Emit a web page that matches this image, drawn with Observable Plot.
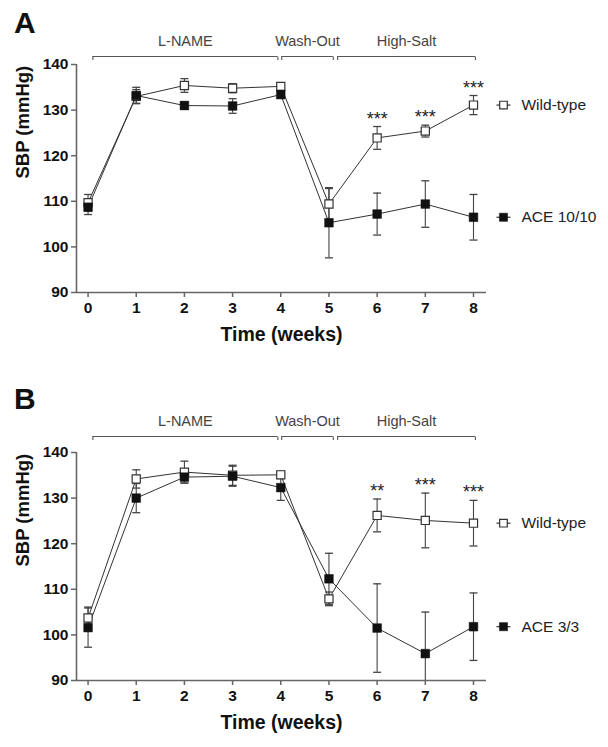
<!DOCTYPE html>
<html><head><meta charset="utf-8">
<script src="https://cdn.jsdelivr.net/npm/d3@7"></script>
<script src="https://cdn.jsdelivr.net/npm/@observablehq/plot@0.6"></script>
<style>
body{margin:0;background:#fff;overflow:hidden;font-family:"Liberation Sans",Arial,sans-serif}
#wrap{position:relative;width:608px;height:747px}
.panel{position:absolute;left:0}
.letter{position:absolute;left:14px;font-weight:bold;font-size:30px;line-height:1;color:#111}
</style></head>
<body><div id="wrap"></div>
<script>
// ---- data ----
const weeks = [0, 1, 2, 3, 4, 5, 6, 7, 8];
const xTicks = [0, 1, 2, 3, 4, 5, 6, 7, 8];
const yTicks = [90, 100, 110, 120, 130, 140];
const phaseLabels = ["L-NAME", "Wash-Out", "High-Salt"];
const phaseFrom = [0.1, 4.02, 5.18];
const phaseTo = [3.94, 5.09, 8.04];

const wtA = [109.7, 133.0, 135.4, 134.8, 135.2, 109.4, 123.9, 125.4, 131.1];
const wtAerr = [1.8, 1.5, 1.5, 1.0, 0.8, 3.4, 2.5, 1.3, 2.1];
const aceA = [108.7, 133.2, 131.0, 130.9, 133.4, 105.3, 107.2, 109.4, 106.5];
const aceAerr = [1.6, 1.8, 0.8, 1.6, 0.8, 7.7, 4.6, 5.1, 5.0];
const sigA = ["", "", "", "", "", "", "***", "***", "***"];

const wtB = [103.7, 134.2, 135.7, 135.0, 135.1, 107.9, 126.2, 125.1, 124.5];
const wtBerr = [2.4, 2.0, 2.4, 2.2, 0.8, 1.5, 3.6, 6.0, 5.0];
const aceB = [101.6, 130.0, 134.6, 134.8, 132.3, 112.3, 101.5, 95.9, 101.8];
const aceBerr = [4.3, 3.2, 1.3, 2.2, 2.8, 5.6, 9.7, 9.1, 7.4];
const sigB = ["", "", "", "", "", "", "**", "***", "***"];

const wtName = "Wild-type";
const aceNameA = "ACE 10/10";
const aceNameB = "ACE 3/3";

// ---- helpers ----
const hline = {draw(ctx, size) { const w = Math.sqrt(size) / 2; ctx.moveTo(-w, 0); ctx.lineTo(w, 0); }};
const vtick = {draw(ctx, size) { const h = Math.sqrt(size) / 2; ctx.moveTo(0, 0); ctx.lineTo(0, h); }};
const xDomain = [-0.24, 8.27];
const yDomain = [90, 140];
const FONT = "Liberation Sans, Arial, sans-serif";

function rowsOf(means, errs, name) {
  return weeks.map((w, i) => ({week: w, mean: means[i], err: errs[i], name}));
}

function panel({wt, wtErr, ace, aceErr, sig, aceName, height, marginBottom, bracketDy, top, letter, letterTop}) {
  const W = rowsOf(wt, wtErr, wtName);
  const A = rowsOf(ace, aceErr, aceName);
  const caps = [...W, ...A].flatMap(d => [{...d, y: d.mean - d.err}, {...d, y: d.mean + d.err}]);
  const stars = W.map((d, i) => ({...d, s: sig[i]})).filter(d => d.s);
  const phases = phaseLabels.map((l, i) => ({label: l, from: phaseFrom[i], to: phaseTo[i]}));
  const ends = phases.flatMap(p => [p.from, p.to]);
  const lastW = W[W.length - 1], lastA = A[A.length - 1];
  const axisCol = "#666";
  const chart = Plot.plot({
    width: 608, height,
    marginLeft: 76, marginRight: 122, marginTop: 64, marginBottom,
    x: {domain: xDomain},
    y: {domain: yDomain},
    style: {fontFamily: FONT, background: "white", overflow: "visible"},
    marks: [
      Plot.axisY({ticks: yTicks, tickSize: 5, tickPadding: 3, fontSize: 15.5, fontWeight: "bold", color: "#111", stroke: axisCol, strokeWidth: 1.5, label: null}),
      Plot.axisX({ticks: xTicks, tickSize: 5, tickPadding: 4, fontSize: 15.5, fontWeight: "bold", color: "#111", stroke: axisCol, strokeWidth: 1.5, label: null}),
      Plot.ruleX([xDomain[0]], {y1: yDomain[0], y2: yDomain[1], stroke: axisCol, strokeWidth: 1.6}),
      Plot.ruleY([yDomain[0]], {x1: xDomain[0], x2: xDomain[1], stroke: axisCol, strokeWidth: 1.6}),
      Plot.text(["SBP (mmHg)"], {text: d => d, frameAnchor: "left", rotate: -90, dx: -53, fontSize: 18.5, fontWeight: "bold", fill: "#111"}),
      Plot.text(["Time (weeks)"], {text: d => d, frameAnchor: "bottom", lineAnchor: "top", dy: 35, fontSize: 19.5, fontWeight: "bold", fill: "#111"}),
      // phase brackets
      Plot.ruleY(phases, {x1: "from", x2: "to", y: () => yDomain[1], dy: bracketDy, stroke: "#555", strokeWidth: 1.1}),
      Plot.dot(ends, {x: d => d, y: () => yDomain[1], dy: bracketDy, symbol: vtick, r: 4, stroke: "#555", strokeWidth: 1.1, fill: "none"}),
      Plot.text(phases, {x: d => (d.from + d.to) / 2, y: () => yDomain[1], dy: bracketDy - 11, text: "label", fontSize: 14.5, fill: "#444", lineAnchor: "bottom"}),
      // lines
      Plot.line(W, {x: "week", y: "mean", stroke: "#333", strokeWidth: 1}),
      Plot.line(A, {x: "week", y: "mean", stroke: "#333", strokeWidth: 1}),
      // error bars
      Plot.ruleX([...W, ...A], {x: "week", y1: d => d.mean - d.err, y2: d => d.mean + d.err, stroke: "#444", strokeWidth: 1.1, clip: true}),
      Plot.dot(caps, {x: "week", y: "y", symbol: hline, r: 4.5, stroke: "#444", strokeWidth: 1.3, fill: "none", clip: true}),
      // markers
      Plot.dot(W, {x: "week", y: "mean", symbol: "square", r: 4.6, fill: "white", stroke: "#333", strokeWidth: 1.2}),
      Plot.dot(A, {x: "week", y: "mean", symbol: "square", r: 4.9, fill: "#111", stroke: "#111", strokeWidth: 0.5}),
      // significance
      Plot.text(stars, {x: "week", y: d => d.mean + d.err, text: "s", dy: -2, fontSize: 18, fill: "#222", lineAnchor: "bottom"}),
      // legend at last value
      Plot.dot([lastW, lastA], {x: "week", y: "mean", dx: 30, symbol: hline, r: 7.9, stroke: "#333", strokeWidth: 1.2, fill: "none"}),
      Plot.dot([lastW], {x: "week", y: "mean", dx: 30, symbol: "square", r: 4.3, fill: "white", stroke: "#333", strokeWidth: 1.2}),
      Plot.dot([lastA], {x: "week", y: "mean", dx: 30, symbol: "square", r: 4.6, fill: "#111", stroke: "#111", strokeWidth: 0.5}),
      Plot.text([lastW, lastA], {x: "week", y: "mean", dx: 48, text: "name", textAnchor: "start", fontSize: 15.5, fill: "#222"})
    ]
  });
  chart.classList.add("panel");
  chart.style.top = top + "px";
  const wrap = document.getElementById("wrap");
  wrap.appendChild(chart);
  const L = document.createElement("div");
  L.className = "letter";
  L.textContent = letter;
  L.style.top = letterTop + "px";
  wrap.appendChild(L);
}

panel({wt: wtA, wtErr: wtAerr, ace: aceA, aceErr: aceAerr, sig: sigA, aceName: aceNameA,
  height: 388, marginBottom: 96, bracketDy: -8, top: 0, letter: "A", letterTop: 8});
panel({wt: wtB, wtErr: wtBerr, ace: aceB, aceErr: aceBerr, sig: sigB, aceName: aceNameB,
  height: 359, marginBottom: 67, bracketDy: -16, top: 388, letter: "B", letterTop: 384});
</script>
</body></html>
